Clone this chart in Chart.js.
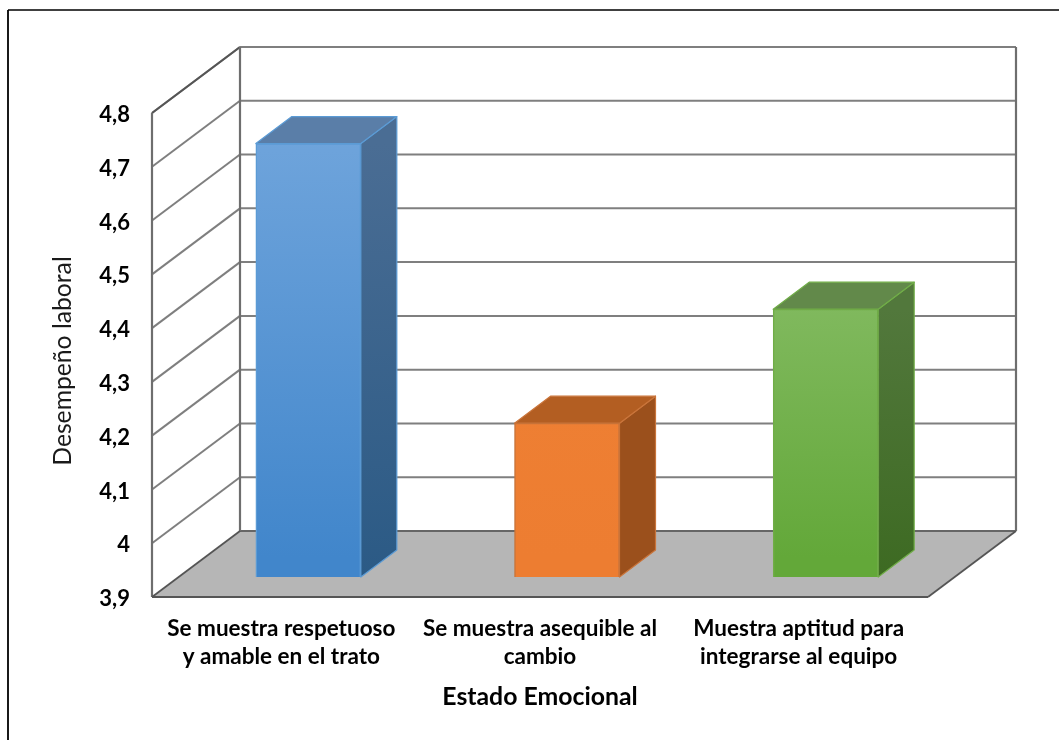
<!DOCTYPE html>
<html>
<head>
<meta charset="utf-8">
<style>
  html, body { margin: 0; padding: 0; background: #fff; }
  canvas { display: block; }
</style>
<script src="https://cdn.jsdelivr.net/npm/chart.js@4/dist/chart.umd.js"></script>
</head>
<body>
<canvas id="chart1" width="1059" height="740"></canvas>
<script>
const categories = [
  ["Se muestra respetuoso", "y amable en el trato"],
  ["Se muestra asequible al", "cambio"],
  ["Muestra aptitud para", "integrarse al equipo"]
];
const values = [4.706, 4.186, 4.398];
const yMin = 3.9;
const yMax = 4.8;
const yStep = 0.1;

// face colours per bar
const frontTop = ["#70a5dc", "#ee7f33", "#82ba60"];
const frontBottom = ["#4186cb", "#ed7d31", "#63a839"];
const edge = ["#5b9bd5", "#c9743a", "#70ad47"];
const topFace = ["#5a7ea8", "#b35e22", "#62894a"];
const sideTop = ["#4a6d94", "#9b501c", "#52783c"];
const sideBottom = ["#2b5a85", "#9b501c", "#3d6a22"];

// 3d offsets, in px
const wallDx = 88, wallDy = -66;
const barDx = 27, barDy = -20;
const depthDx = 36, depthDy = -27;

function poly(ctx, pts, fill, stroke, lw) {
  ctx.beginPath();
  pts.forEach((p, i) => i ? ctx.lineTo(p[0], p[1]) : ctx.moveTo(p[0], p[1]));
  ctx.closePath();
  if (fill) { ctx.fillStyle = fill; ctx.fill(); }
  if (stroke) { ctx.strokeStyle = stroke; ctx.lineWidth = lw; ctx.stroke(); }
}

function line(ctx, x1, y1, x2, y2, color, lw) {
  ctx.beginPath();
  ctx.moveTo(x1, y1);
  ctx.lineTo(x2, y2);
  ctx.strokeStyle = color;
  ctx.lineWidth = lw;
  ctx.stroke();
}

const walls = {
  id: "walls",
  afterLayout(chart) {
    // y title sits a little below the middle of the axis
    chart.scales.y.bottom += 12;
  },
  beforeDatasetsDraw(chart) {
    const ctx = chart.ctx;
    const a = chart.chartArea;
    const y = chart.scales.y;
    ctx.save();

    // outer frame
    line(ctx, 8, 10, 1059, 10, "#000", 1.6);
    line(ctx, 8, 10, 8, 740, "#000", 1.8);

    // floor
    poly(ctx, [[a.left, a.bottom], [a.right, a.bottom],
      [a.right + wallDx, a.bottom + wallDy], [a.left + wallDx, a.bottom + wallDy]], "#b6b6b6");

    // gridlines, side wall then back wall
    y.ticks.forEach(t => {
      const py = y.getPixelForValue(t.value);
      if (t.value === yMin) return;
      line(ctx, a.left, py, a.left + wallDx, py + wallDy, "#7f7f7f", 2);
      line(ctx, a.left + wallDx, py + wallDy, a.right + wallDx, py + wallDy, "#7f7f7f", 2);
    });
    line(ctx, a.left + wallDx, a.bottom + wallDy, a.right + wallDx, a.bottom + wallDy, "#666", 2);

    line(ctx, a.left, a.top, a.left + wallDx, a.top + wallDy, "#555", 2);
    line(ctx, a.left, a.top, a.left, a.bottom, "#6e6e6e", 2.2);
    line(ctx, a.left + wallDx, a.top + wallDy, a.left + wallDx, a.bottom + wallDy, "#6e6e6e", 2.2);
    line(ctx, a.right + wallDx, a.top + wallDy, a.right + wallDx, a.bottom + wallDy, "#6e6e6e", 2.2);

    // floor edges
    line(ctx, a.left, a.bottom, a.left + wallDx, a.bottom + wallDy, "#555", 1.8);
    line(ctx, a.left, a.bottom, a.right, a.bottom, "#555", 2.2);
    line(ctx, a.right, a.bottom, a.right + wallDx, a.bottom + wallDy, "#555", 1.8);
    ctx.restore();

    // the bars stand set back from the front of the floor
    ctx.save();
    ctx.translate(barDx, barDy);
  },
  afterDatasetsDraw(chart) {
    const ctx = chart.ctx;
    chart.getDatasetMeta(0).data.forEach((bar, i) => {
      const l = bar.x - bar.width / 2, r = bar.x + bar.width / 2;
      const g = ctx.createLinearGradient(0, bar.y, 0, bar.base);
      g.addColorStop(0, sideTop[i]);
      g.addColorStop(1, sideBottom[i]);
      ctx.lineJoin = "round";
      poly(ctx, [[r, bar.y], [r + depthDx, bar.y + depthDy],
        [r + depthDx, bar.base + depthDy], [r, bar.base]], g, edge[i], 1.2);
      poly(ctx, [[l, bar.y], [l + depthDx, bar.y + depthDy],
        [r + depthDx, bar.y + depthDy], [r, bar.y]], topFace[i], edge[i], 1.2);
    });
    ctx.restore();
  }
};

new Chart(document.getElementById("chart1"), {
  type: "bar",
  plugins: [walls],
  data: {
    labels: categories,
    datasets: [{
      data: values,
      base: yMin,
      barThickness: 105,
      borderWidth: 1.5,
      borderColor: edge,
      backgroundColor(c) {
        const area = c.chart.chartArea;
        if (!area || c.dataIndex === undefined) return frontTop[0];
        const py = c.chart.scales.y.getPixelForValue(values[c.dataIndex]);
        const g = c.chart.ctx.createLinearGradient(0, py + barDy, 0, area.bottom + barDy);
        g.addColorStop(0, frontTop[c.dataIndex]);
        g.addColorStop(1, frontBottom[c.dataIndex]);
        return g;
      }
    }]
  },
  options: {
    responsive: false,
    animation: false,
    layout: { padding: { top: 113, right: 131, bottom: 0, left: 0 } },
    plugins: {
      legend: { display: false },
      tooltip: { enabled: false }
    },
    scales: {
      x: {
        grid: { display: false, drawTicks: false },
        border: { display: false },
        ticks: {
          maxRotation: 0,
          autoSkip: false,
          padding: 17,
          color: "#000",
          font: { family: "Lato", size: 22.5, weight: "bold", lineHeight: 1.27 }
        },
        title: {
          display: true,
          text: "Estado Emocional",
          color: "#000",
          padding: { top: 0, bottom: 28.6 },
          font: { family: "Lato", size: 24.8, weight: "bold" }
        },
        afterFit(s) {
          s.height = 143;
          s.paddingLeft = s.paddingRight = 0;
        }
      },
      y: {
        min: yMin,
        max: yMax,
        grid: { display: false, drawTicks: false },
        border: { display: false },
        ticks: {
          stepSize: yStep,
          padding: 22,
          labelOffset: 2,
          color: "#000",
          font: { family: "Lato", size: 22, weight: "bold" },
          callback: v => String(+v.toFixed(1)).replace(".", ",")
        },
        title: {
          display: true,
          text: "Desempeño laboral",
          color: "#1a1a1a",
          padding: { top: 48, bottom: 0 },
          font: { family: "Lato", size: 24.7 }
        },
        afterFit(s) {
          s.width = 152;
          s.paddingTop = s.paddingBottom = 0;
        }
      }
    }
  }
});
</script>
</body>
</html>
